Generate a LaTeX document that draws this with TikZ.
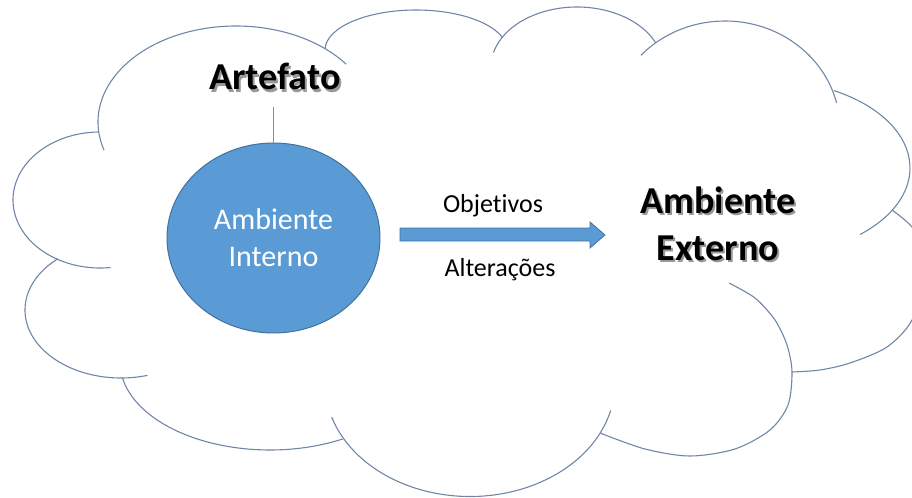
\documentclass[tikz,border=0pt]{standalone}
\usepackage{fontspec}
\setmainfont{Carlito}[Ligatures=NoCommon]
\usetikzlibrary{shapes.geometric}
\definecolor{azul}{RGB}{91,155,213}
\definecolor{azulescuro}{RGB}{65,113,156}
\definecolor{nuvem}{RGB}{112,134,168}

\begin{document}
\begin{tikzpicture}[x=0.5pt,y=-0.5pt,
		lobo/.style={draw=nuvem, line width=0.55pt},
		titulo/.style={font=\bfseries\fontsize{19}{23.5}\selectfont, align=center, inner sep=2pt},
		sombra/.style={titulo, text=black!40},
		rotulo/.style={font=\fontsize{13}{16}\selectfont, inner sep=0pt}]

			% Rahmen
			\useasboundingbox (0,0) rectangle (912,498);
			\clip (0,0) rectangle (912,498);

			% Wolke (einzelne Boegen, im Uhrzeigersinn)
			\draw[lobo] (236,122) ++(163:138 and 96) arc[start angle=163, end angle=323, x radius=138, y radius=96];
			\draw[lobo] (416,50) ++(182:91 and 40) arc[start angle=182, end angle=342, x radius=91, y radius=40];
			\draw[lobo] (577,67) ++(194:86 and 60) arc[start angle=194, end angle=336, x radius=86, y radius=60];
			\draw[lobo] (725,129) ++(223:115 and 108) arc[start angle=223, end angle=346, x radius=115, y radius=108];
			\draw[lobo] (765,168) ++(-61.5:145 and 88) arc[start angle=-61.5, end angle=49, x radius=145, y radius=88];
			\draw[lobo] plot[smooth] coordinates {(892,210) (912,227) (922,250) (924,275) (912,320) (887,347) (850,363) (820,370) (792,372)};
			\draw[lobo] plot[smooth] coordinates {(729,283) (755,298) (775,320) (787,345) (792,372) (788,405) (770,430) (735,449) (690,456) (645,449) (600,433)};
			\draw[lobo] (470,383) ++(14:145 and 113.5) arc[start angle=14, end angle=162.5, x radius=145, y radius=113.5];
			\draw[lobo] (270,362) ++(169.5:150 and 88) arc[start angle=169.5, end angle=61, x radius=150, y radius=88];
			\draw[lobo] (121,310) ++(229:96 and 68) arc[start angle=229, end angle=74, x radius=96, y radius=68];
			\draw[lobo] (100,200) ++(269:87 and 68) arc[start angle=269, end angle=83, x radius=87, y radius=68];

			% Kreis
			\node[ellipse, fill=azul, draw=azulescuro, line width=0.5pt, minimum width=106.5pt, minimum height=95pt,
				text=white, align=center, font=\fontsize{15}{18.5}\selectfont] (interno) at (273.5,238) {Ambiente\\Interno};

			% Artefato mit Schatten
			\node[sombra, anchor=base] (artefatoS) at (277,92) {Artefato};
			\node[titulo, anchor=base] (artefato) at (275,90) {Artefato};
			\draw[azul, line width=0.6pt, shorten <=6pt] (artefato.south -| interno.north) -- (interno.north);

			% Ambiente Externo mit Schatten
			\node[sombra] (externoS) at (720,225.5) {Ambiente\\Externo};
			\node[titulo] (externo) at (718,223.5) {Ambiente\\Externo};

			% Blockpfeil
			\fill[azul, draw=azulescuro, line width=0.4pt] (400,228) -- (590,228) -- (590,222) -- (605,235)
				-- (590,248) -- (590,241) -- (400,241) -- cycle;

			% Beschriftung am Pfeil
			\node[rotulo, anchor=base] (objetivos) at (493,212) {Objetivos};
			\node[rotulo, anchor=base] (alteracoes) at (500,276) {Alterações};

\end{tikzpicture}
\end{document}
